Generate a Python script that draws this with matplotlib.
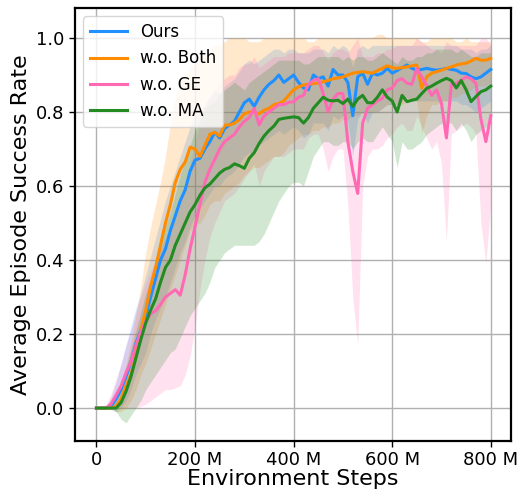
import numpy as np
import matplotlib
matplotlib.use("Agg")
import matplotlib.pyplot as plt

# Environment steps (millions), 10M grid
steps = list(range(0, 801, 10))

ours = [0, 0, 0, 0.005, 0.025, 0.05, 0.085, 0.125, 0.175, 0.21,
        0.25, 0.30, 0.35, 0.40, 0.43, 0.48, 0.52, 0.56, 0.59, 0.64,
        0.67, 0.675, 0.70, 0.72, 0.745, 0.73, 0.755, 0.765, 0.775, 0.80,
        0.825, 0.835, 0.815, 0.84, 0.86, 0.875, 0.885, 0.90, 0.88, 0.89,
        0.90, 0.88, 0.865, 0.86, 0.90, 0.89, 0.895, 0.87, 0.915, 0.90,
        0.90, 0.88, 0.79, 0.895, 0.905, 0.875, 0.905, 0.90, 0.905, 0.918,
        0.905, 0.912, 0.92, 0.927, 0.918, 0.913, 0.915, 0.918, 0.915, 0.913,
        0.915, 0.918, 0.915, 0.913, 0.905, 0.904, 0.895, 0.89, 0.895, 0.905,
        0.915]
ours_lo = [0, 0, 0, -0.005, -0.01, 0.0, 0.02, 0.05, 0.09, 0.12,
           0.15, 0.20, 0.24, 0.27, 0.30, 0.34, 0.38, 0.42, 0.45, 0.49,
           0.52, 0.54, 0.56, 0.58, 0.60, 0.60, 0.62, 0.63, 0.64, 0.66,
           0.68, 0.69, 0.69, 0.71, 0.72, 0.73, 0.74, 0.75, 0.74, 0.75,
           0.76, 0.75, 0.73, 0.74, 0.77, 0.77, 0.77, 0.75, 0.79, 0.78,
           0.79, 0.77, 0.68, 0.78, 0.80, 0.77, 0.80, 0.80, 0.81, 0.82,
           0.82, 0.82, 0.83, 0.84, 0.83, 0.83, 0.83, 0.83, 0.83, 0.83,
           0.83, 0.83, 0.83, 0.83, 0.82, 0.82, 0.81, 0.80, 0.81, 0.82,
           0.83]
ours_hi = [0, 0, 0.005, 0.03, 0.07, 0.12, 0.17, 0.22, 0.27, 0.31,
           0.36, 0.41, 0.46, 0.51, 0.56, 0.60, 0.64, 0.68, 0.72, 0.76,
           0.79, 0.80, 0.82, 0.84, 0.86, 0.85, 0.87, 0.88, 0.89, 0.91,
           0.93, 0.94, 0.93, 0.94, 0.95, 0.96, 0.97, 0.97, 0.96, 0.97,
           0.97, 0.96, 0.96, 0.96, 0.97, 0.97, 0.97, 0.96, 0.98, 0.97,
           0.98, 0.97, 0.92, 0.97, 0.98, 0.97, 0.98, 0.98, 0.98, 0.98,
           0.98, 0.98, 0.98, 0.98, 0.98, 0.98, 0.98, 0.98, 0.98, 0.98,
           0.98, 0.98, 0.98, 0.98, 0.97, 0.97, 0.97, 0.96, 0.97, 0.97,
           0.98]

wo_both = [0, 0, 0, 0, 0.005, 0.025, 0.06, 0.09, 0.14, 0.21,
           0.265, 0.33, 0.38, 0.44, 0.50, 0.55, 0.61, 0.645, 0.665, 0.705,
           0.70, 0.68, 0.71, 0.74, 0.745, 0.735, 0.765, 0.765, 0.77, 0.78,
           0.795, 0.80, 0.80, 0.795, 0.805, 0.81, 0.82, 0.823, 0.83, 0.845,
           0.86, 0.868, 0.873, 0.875, 0.877, 0.878, 0.882, 0.885, 0.89, 0.892,
           0.895, 0.90, 0.905, 0.907, 0.909, 0.907, 0.905, 0.912, 0.918, 0.925,
           0.92, 0.918, 0.92, 0.922, 0.925, 0.927, 0.865, 0.895, 0.905, 0.909,
           0.913, 0.918, 0.922, 0.927, 0.93, 0.932, 0.938, 0.945, 0.94, 0.94,
           0.945]
wo_both_lo = [0, 0, 0, 0, -0.01, -0.01, 0.0, 0.02, 0.05, 0.09,
              0.12, 0.16, 0.20, 0.24, 0.28, 0.32, 0.36, 0.40, 0.44, 0.48,
              0.50, 0.50, 0.52, 0.55, 0.56, 0.56, 0.58, 0.59, 0.60, 0.61,
              0.63, 0.64, 0.65, 0.65, 0.66, 0.67, 0.68, 0.68, 0.69, 0.71,
              0.72, 0.73, 0.74, 0.74, 0.75, 0.75, 0.76, 0.76, 0.77, 0.77,
              0.78, 0.78, 0.79, 0.79, 0.80, 0.80, 0.80, 0.80, 0.81, 0.82,
              0.82, 0.82, 0.82, 0.83, 0.83, 0.83, 0.74, 0.79, 0.82, 0.82,
              0.83, 0.83, 0.84, 0.84, 0.85, 0.85, 0.86, 0.87, 0.87, 0.87,
              0.88]
wo_both_hi = [0, 0, 0, 0.01, 0.03, 0.07, 0.12, 0.18, 0.25, 0.33,
              0.42, 0.49, 0.55, 0.61, 0.68, 0.77, 0.84, 0.88, 0.90, 0.92,
              0.93, 0.94, 0.96, 0.97, 0.98, 0.98, 0.99, 1.0, 1.0, 1.0,
              1.0, 0.99, 0.99, 0.99, 1.0, 1.0, 1.0, 1.0, 1.0, 1.0,
              1.0, 1.0, 1.0, 0.99, 0.99, 1.0, 1.0, 1.0, 1.0, 1.0,
              1.0, 1.0, 1.0, 1.0, 1.0, 1.0, 1.0, 1.01, 1.01, 1.0,
              1.0, 1.0, 1.0, 1.0, 1.0, 1.0, 0.99, 0.99, 1.0, 1.0,
              1.0, 1.0, 1.0, 0.99, 0.99, 1.0, 0.99, 0.99, 0.99, 0.99,
              0.99]

wo_ge = [0, 0, 0, 0.012, 0.035, 0.06, 0.095, 0.125, 0.17, 0.205,
         0.235, 0.255, 0.263, 0.28, 0.30, 0.31, 0.32, 0.305, 0.36, 0.43,
         0.49, 0.55, 0.61, 0.645, 0.672, 0.70, 0.72, 0.73, 0.74, 0.76,
         0.775, 0.785, 0.81, 0.765, 0.79, 0.80, 0.81, 0.82, 0.82, 0.826,
         0.828, 0.84, 0.845, 0.875, 0.885, 0.89, 0.85, 0.80, 0.835, 0.85,
         0.85, 0.72, 0.64, 0.58, 0.77, 0.81, 0.82, 0.83, 0.837, 0.86,
         0.865, 0.885, 0.89, 0.878, 0.875, 0.918, 0.895, 0.872, 0.845, 0.86,
         0.823, 0.73, 0.875, 0.878, 0.886, 0.895, 0.89, 0.877, 0.78, 0.72,
         0.79]
wo_ge_lo = [0, 0, 0, 0, 0.0, 0.0, 0.0, 0.0, 0.0, 0.005,
            0.01, 0.02, 0.03, 0.04, 0.05, 0.05, 0.055, 0.06, 0.09, 0.14,
            0.22, 0.32, 0.40, 0.46, 0.50, 0.53, 0.56, 0.57, 0.58, 0.60,
            0.62, 0.64, 0.66, 0.60, 0.64, 0.66, 0.68, 0.68, 0.68, 0.69,
            0.70, 0.70, 0.70, 0.73, 0.74, 0.74, 0.70, 0.64, 0.68, 0.70,
            0.70, 0.55, 0.30, 0.17, 0.60, 0.68, 0.70, 0.70, 0.71, 0.73,
            0.74, 0.76, 0.77, 0.75, 0.75, 0.79, 0.76, 0.73, 0.70, 0.72,
            0.66, 0.45, 0.74, 0.75, 0.76, 0.77, 0.76, 0.74, 0.50, 0.39,
            0.55]
wo_ge_hi = [0, 0, 0.01, 0.04, 0.08, 0.12, 0.17, 0.21, 0.26, 0.30,
            0.34, 0.37, 0.40, 0.43, 0.46, 0.49, 0.52, 0.55, 0.60, 0.66,
            0.72, 0.77, 0.82, 0.84, 0.86, 0.88, 0.89, 0.90, 0.90, 0.92,
            0.93, 0.93, 0.95, 0.92, 0.93, 0.94, 0.95, 0.95, 0.95, 0.96,
            0.96, 0.96, 0.96, 0.97, 0.98, 0.98, 0.96, 0.94, 0.96, 0.97,
            0.97, 0.96, 0.98, 1.0, 0.95, 0.95, 0.95, 0.96, 0.96, 0.97,
            0.97, 0.98, 0.98, 0.98, 0.98, 1.0, 0.99, 0.98, 0.97, 0.97,
            0.96, 0.99, 0.98, 0.98, 0.98, 0.98, 0.98, 0.98, 1.0, 1.0,
            0.98]

wo_ma = [0, 0, 0, 0, 0, 0.015, 0.045, 0.085, 0.135, 0.185,
         0.23, 0.265, 0.295, 0.34, 0.38, 0.40, 0.44, 0.47, 0.50, 0.53,
         0.55, 0.575, 0.595, 0.605, 0.62, 0.635, 0.645, 0.65, 0.66, 0.655,
         0.648, 0.675, 0.69, 0.715, 0.735, 0.75, 0.762, 0.78, 0.783, 0.785,
         0.787, 0.785, 0.77, 0.785, 0.81, 0.825, 0.84, 0.832, 0.83, 0.832,
         0.823, 0.835, 0.815, 0.835, 0.845, 0.825, 0.825, 0.84, 0.86, 0.84,
         0.83, 0.80, 0.845, 0.828, 0.832, 0.835, 0.85, 0.864, 0.87, 0.878,
         0.885, 0.891, 0.885, 0.865, 0.885, 0.86, 0.828, 0.842, 0.855, 0.86,
         0.87]
wo_ma_lo = [0, 0, 0, 0, -0.01, -0.03, -0.04, -0.02, 0.0, 0.02,
            0.05, 0.07, 0.09, 0.11, 0.13, 0.15, 0.16, 0.19, 0.22, 0.25,
            0.27, 0.29, 0.31, 0.34, 0.38, 0.40, 0.42, 0.43, 0.44, 0.44,
            0.44, 0.44, 0.44, 0.45, 0.47, 0.50, 0.53, 0.56, 0.58, 0.60,
            0.61, 0.61, 0.60, 0.64, 0.68, 0.70, 0.72, 0.72, 0.71, 0.71,
            0.72, 0.72, 0.70, 0.72, 0.73, 0.72, 0.72, 0.74, 0.76, 0.74,
            0.72, 0.65, 0.72, 0.70, 0.70, 0.71, 0.72, 0.74, 0.75, 0.76,
            0.77, 0.77, 0.77, 0.75, 0.77, 0.75, 0.72, 0.74, 0.75, 0.76,
            0.77]
wo_ma_hi = [0, 0, 0, 0.005, 0.02, 0.06, 0.11, 0.16, 0.21, 0.26,
            0.31, 0.35, 0.39, 0.44, 0.49, 0.53, 0.58, 0.63, 0.67, 0.71,
            0.75, 0.78, 0.81, 0.82, 0.83, 0.85, 0.86, 0.87, 0.88, 0.87,
            0.86, 0.88, 0.89, 0.90, 0.91, 0.92, 0.93, 0.94, 0.94, 0.94,
            0.94, 0.94, 0.93, 0.93, 0.94, 0.95, 0.95, 0.95, 0.95, 0.95,
            0.94, 0.95, 0.94, 0.95, 0.95, 0.94, 0.94, 0.95, 0.96, 0.95,
            0.94, 0.93, 0.95, 0.94, 0.94, 0.95, 0.95, 0.96, 0.96, 0.97,
            0.97, 0.97, 0.97, 0.96, 0.97, 0.96, 0.95, 0.95, 0.96, 0.96,
            0.96]

labels = ["Ours", "w.o. Both", "w.o. GE", "w.o. MA"]
colors = ["#1E90FF", "#FF8C00", "#FF69B4", "#228B22"]
xticks = [0, 200, 400, 600, 800]
xticklabels = ["0", "200 M", "400 M", "600 M", "800 M"]
yticks = [0.0, 0.2, 0.4, 0.6, 0.8, 1.0]

series = [(ours, ours_lo, ours_hi), (wo_both, wo_both_lo, wo_both_hi),
          (wo_ge, wo_ge_lo, wo_ge_hi), (wo_ma, wo_ma_lo, wo_ma_hi)]

fig = plt.figure(figsize=(5.19, 4.95), dpi=100)
ax = fig.add_axes([0.1445, 0.109, 0.8401, 0.8748])

x = np.array(steps)
for (m, lo, hi), c in zip(series, colors):
    ax.fill_between(x, lo, hi, color=c, alpha=0.2, linewidth=0)
for (m, lo, hi), c, lab in zip(series, colors, labels):
    ax.plot(x, m, color=c, lw=2.2, label=lab)

ax.set_xlim(-43.5, 841)
ax.set_ylim(-0.089, 1.081)
ax.set_xticks(xticks)
ax.set_xticklabels(xticklabels)
ax.set_yticks(yticks)
ax.set_yticklabels([f"{v:.1f}" for v in yticks])
ax.tick_params(labelsize=13, length=4, width=1)
ax.grid(True, color="#b0b0b0", linewidth=1.0)
ax.set_axisbelow(True)
for s in ax.spines.values():
    s.set_linewidth(1.6)
    s.set_color("black")
ax.set_xlabel("Environment Steps", fontsize=16, labelpad=0)
ax.set_ylabel("Average Episode Success Rate", fontsize=16, labelpad=4)
ax.legend(loc="upper left", fontsize=12, handlelength=2.2, framealpha=0.8,
          borderaxespad=0.5)

fig.savefig("out.png", dpi=100)
